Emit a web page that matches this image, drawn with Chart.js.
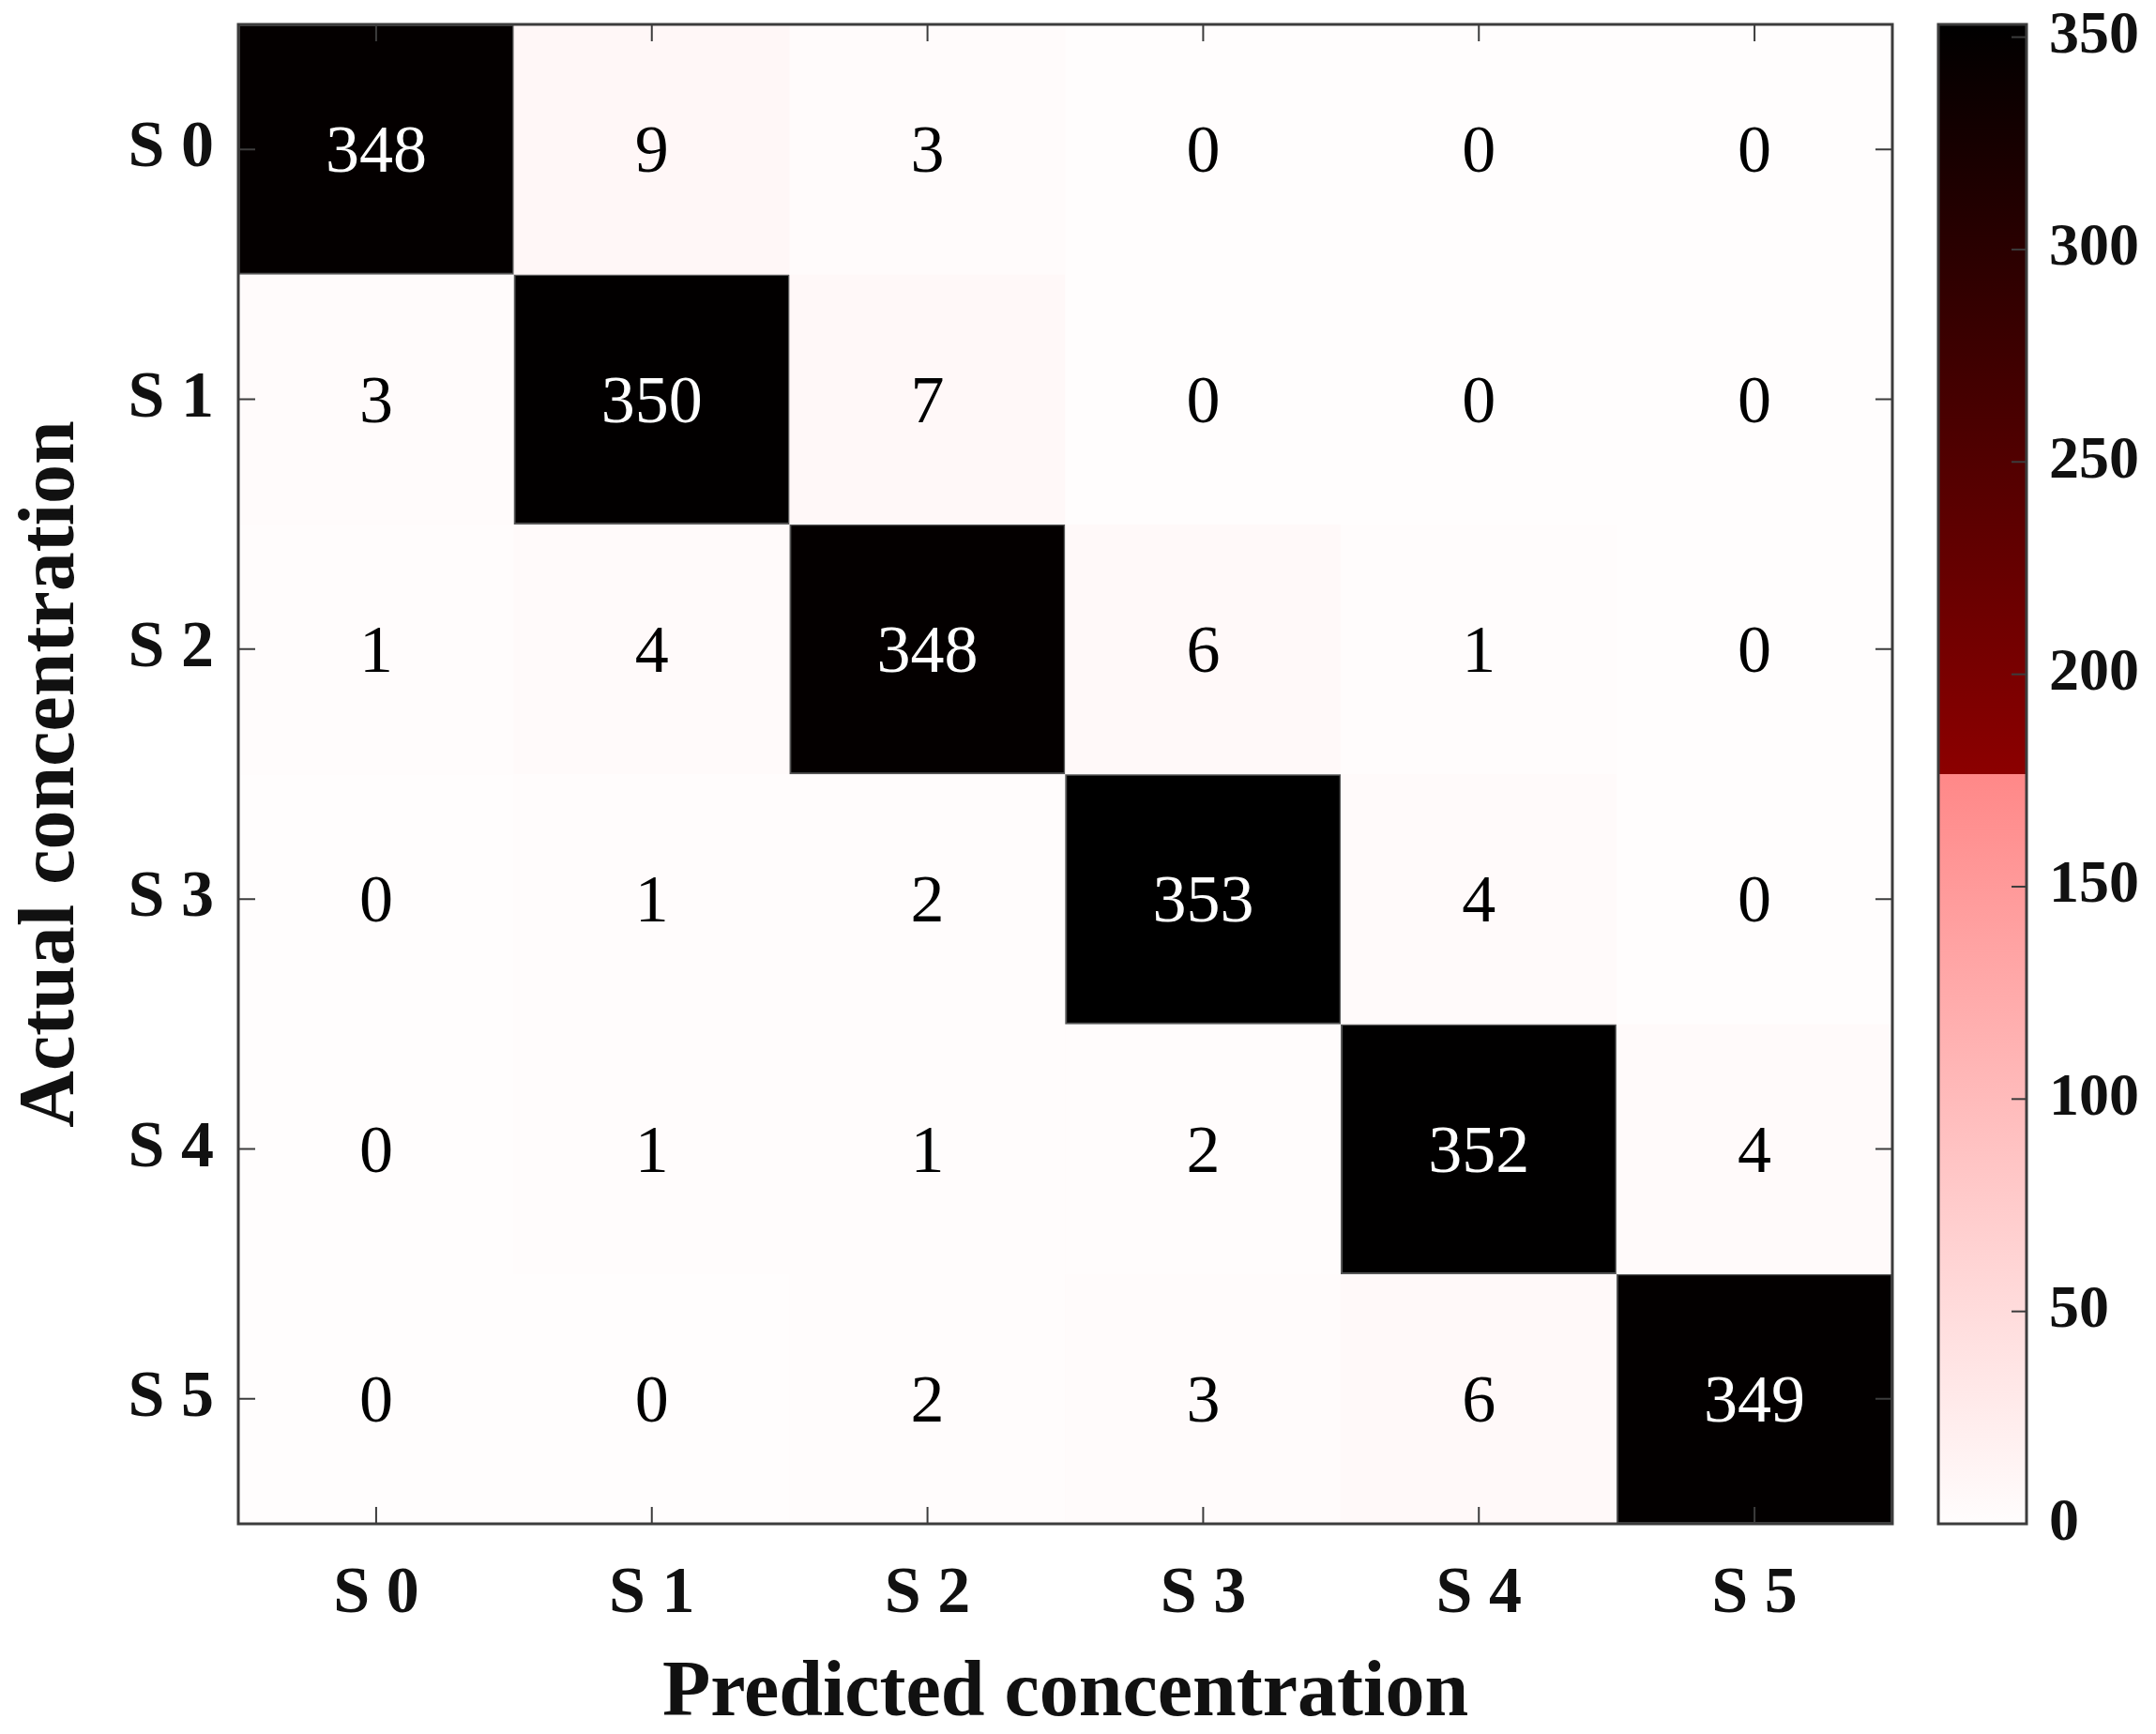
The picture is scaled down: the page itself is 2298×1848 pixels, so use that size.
<!DOCTYPE html>
<html lang="en">
<head>
<meta charset="UTF-8">
<title>Confusion Matrix</title>
<script src="https://cdn.jsdelivr.net/npm/chart.js"></script>
<style>
  body {
    margin: 0;
    background: #fff;
    width: 2298px;
    height: 1848px;
    overflow: hidden;
  }
  canvas {
    position: absolute;
    top: 0;
  }
  #matrix { left: 0; }
  #colorbar { left: 2040px; }
</style>
</head>
<body>
  <canvas id="matrix" width="2298" height="1848"></canvas>
  <canvas id="colorbar" width="258" height="1848"></canvas>

  <script>
    // class labels (same for both axes)
    const classLabels = ['S 0', 'S 1', 'S 2', 'S 3', 'S 4', 'S 5'];

    // counts per actual class, columns = predicted S 0..S 5
    const actualS0 = [348, 9, 3, 0, 0, 0];
    const actualS1 = [3, 350, 7, 0, 0, 0];
    const actualS2 = [1, 4, 348, 6, 1, 0];
    const actualS3 = [0, 1, 2, 353, 4, 0];
    const actualS4 = [0, 1, 1, 2, 352, 4];
    const actualS5 = [0, 0, 2, 3, 6, 349];

    const colorbarTicks = [0, 50, 100, 150, 200, 250, 300, 350];
    const colorMax = 353;

    const rows = [actualS0, actualS1, actualS2, actualS3, actualS4, actualS5];
    const serif = "'Liberation Serif', 'Times New Roman', serif";
    const frameColor = '#3c3c3c';

    // two-part map: white -> light red, then dark red -> black
    function cmap(v) {
      const t = Math.min(v / colorMax, 1);
      let r, g, b;
      if (t < 0.5) {
        const f = t / 0.5;
        r = 255;
        g = 253 - f * (253 - 136);
        b = g;
      } else {
        const f = (t - 0.5) / 0.5;
        r = 140 * (1 - f);
        g = 0;
        b = 0;
      }
      return `rgb(${Math.round(r)},${Math.round(g)},${Math.round(b)})`;
    }

    // drop the extra room chart.js keeps for half labels at the ends
    function noEdgePadding(scale) {
      scale.paddingTop = 0;
      scale.paddingBottom = 0;
      scale.paddingLeft = 0;
      scale.paddingRight = 0;
    }

    // frame and inward tick marks
    const framePlugin = {
      id: 'frame',
      afterDraw(chart) {
        const { ctx, chartArea: a, scales } = chart;
        ctx.save();
        ctx.strokeStyle = frameColor;
        ctx.lineWidth = 2;
        const len = 18;
        scales.x.ticks.forEach((t, i) => {
          const x = scales.x.getPixelForTick(i);
          ctx.beginPath();
          ctx.moveTo(x, a.bottom); ctx.lineTo(x, a.bottom - len);
          ctx.moveTo(x, a.top); ctx.lineTo(x, a.top + len);
          ctx.stroke();
        });
        scales.y.ticks.forEach(t => {
          const y = scales.y.getPixelForValue(t.value);
          ctx.beginPath();
          ctx.moveTo(a.left, y); ctx.lineTo(a.left + len, y);
          ctx.moveTo(a.right, y); ctx.lineTo(a.right - len, y);
          ctx.stroke();
        });
        ctx.lineWidth = 3;
        ctx.strokeRect(a.left, a.top, a.right - a.left, a.bottom - a.top);
        ctx.restore();
      }
    };

    // count written in the middle of each cell
    const cellTextPlugin = {
      id: 'cellText',
      afterDatasetsDraw(chart) {
        const ctx = chart.ctx;
        const size = 72;
        ctx.save();
        ctx.font = `${size}px ${serif}`;
        ctx.textAlign = 'center';
        ctx.textBaseline = 'alphabetic';
        chart.data.datasets.forEach((ds, r) => {
          chart.getDatasetMeta(r).data.forEach((bar, c) => {
            const v = ds.counts[c];
            ctx.fillStyle = v > colorMax / 2 ? '#ffffff' : '#000000';
            const cy = (bar.y + bar.base) / 2;
            ctx.fillText(String(v), bar.x, cy + size * 0.335);
          });
        });
        ctx.restore();
      }
    };

    const datasets = rows.map((counts, r) => ({
      label: classLabels[r],
      data: counts.map(() => [r - 0.5, r + 0.5]),
      counts: counts,
      backgroundColor: counts.map(cmap),
      borderColor: '#555555',
      borderWidth: counts.map(v => v > colorMax / 2 ? 2 : 0),
      borderSkipped: false,
      grouped: false,
      barPercentage: 1,
      categoryPercentage: 1
    }));

    new Chart(document.getElementById('matrix'), {
      type: 'bar',
      data: { labels: classLabels, datasets: datasets },
      options: {
        responsive: false,
        animation: false,
        devicePixelRatio: 1,
        layout: { padding: { top: 26, right: 281, left: 0, bottom: 0 } },
        plugins: { legend: { display: false }, tooltip: { enabled: false } },
        scales: {
          x: {
            type: 'category',
            grid: { display: false, drawTicks: false },
            border: { display: false },
            ticks: {
              color: '#111',
              padding: 34,
              font: { family: serif, size: 70, weight: 'bold' },
              maxRotation: 0
            },
            title: {
              display: true,
              text: 'Predicted concentration',
              color: '#111',
              padding: { top: 0, bottom: -9 },
              font: { family: serif, size: 84, weight: 'bold' }
            },
            afterFit(scale) {
              noEdgePadding(scale);
              scale.height = 224;
            }
          },
          y: {
            type: 'linear',
            reverse: true,
            min: -0.5,
            max: 5.5,
            grid: { display: false, drawTicks: false },
            border: { display: false },
            afterBuildTicks(scale) {
              scale.ticks = classLabels.map((_, i) => ({ value: i }));
            },
            ticks: {
              color: '#111',
              padding: 26,
              font: { family: serif, size: 70, weight: 'bold' },
              callback: v => classLabels[v]
            },
            title: {
              display: true,
              text: 'Actual concentration',
              color: '#111',
              padding: { top: 6, bottom: 0 },
              font: { family: serif, size: 84, weight: 'bold' }
            },
            afterFit(scale) {
              noEdgePadding(scale);
              scale.width = 254;
            }
          }
        }
      },
      plugins: [cellTextPlugin, framePlugin]
    });

    // colour bar
    const colorbarFrame = {
      id: 'cbFrame',
      afterDraw(chart) {
        const { ctx, chartArea: a, scales } = chart;
        ctx.save();
        ctx.strokeStyle = frameColor;
        ctx.lineWidth = 2;
        scales.y.ticks.forEach(t => {
          const y = scales.y.getPixelForValue(t.value);
          ctx.beginPath();
          ctx.moveTo(a.right, y); ctx.lineTo(a.right - 16, y);
          ctx.stroke();
        });
        ctx.lineWidth = 3;
        ctx.strokeRect(a.left, a.top, a.right - a.left, a.bottom - a.top);
        ctx.restore();
      }
    };

    new Chart(document.getElementById('colorbar'), {
      type: 'bar',
      data: {
        labels: [''],
        datasets: [{
          data: [[0, colorMax]],
          barPercentage: 1,
          categoryPercentage: 1,
          backgroundColor(context) {
            const chart = context.chart;
            if (!chart.chartArea) return null;
            const y = chart.scales.y;
            const y0 = y.getPixelForValue(0);
            const y1 = y.getPixelForValue(colorMax);
            const g = chart.ctx.createLinearGradient(0, y0, 0, y1);
            g.addColorStop(0, cmap(0));
            g.addColorStop(0.4999, cmap(colorMax * 0.4999));
            g.addColorStop(0.5, cmap(colorMax * 0.5));
            g.addColorStop(1, cmap(colorMax));
            return g;
          }
        }]
      },
      options: {
        responsive: false,
        animation: false,
        devicePixelRatio: 1,
        layout: { padding: { top: 26, left: 26, bottom: 224, right: 0 } },
        plugins: { legend: { display: false }, tooltip: { enabled: false } },
        scales: {
          x: { display: false },
          y: {
            position: 'right',
            min: 0,
            max: colorMax,
            grid: { display: false, drawTicks: false },
            border: { display: false },
            afterBuildTicks(scale) {
              scale.ticks = colorbarTicks.map(v => ({ value: v }));
            },
            ticks: {
              color: '#111',
              padding: 24,
              font: { family: serif, size: 64, weight: 'bold' }
            },
            afterFit(scale) {
              noEdgePadding(scale);
              scale.width = 138;
            }
          }
        }
      },
      plugins: [colorbarFrame]
    });
  </script>
</body>
</html>
